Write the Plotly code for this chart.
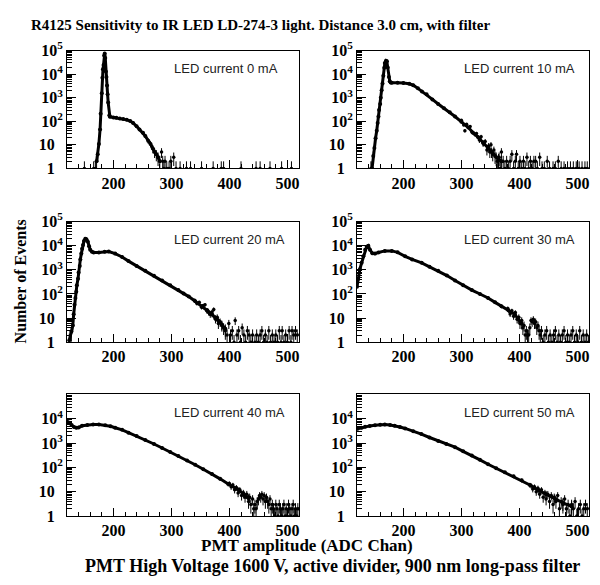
import plotly.graph_objects as go

# ---------------- data (ADC channel, number of events) ----------------
labels = ["LED current 0 mA", "LED current 10 mA", "LED current 20 mA",
          "LED current 30 mA", "LED current 40 mA", "LED current 50 mA"]

ch_0 = [171, 173, 175, 177, 178, 180, 181, 182, 183, 184, 185, 186, 187, 188, 189, 190, 191, 193,
        194, 200, 205, 211, 217, 223, 229, 234, 240, 245, 251, 255, 260, 264, 268, 271, 274, 277, 280]
n_0 = [2, 4, 11, 45, 210, 1550, 7000, 16000, 24500, 62000, 75000, 48000, 13000, 7500, 3300, 1400, 620, 180,
       155, 145, 140, 132, 125, 115, 103, 85, 61, 45, 33, 24, 15, 11, 7, 5, 4, 3, 2]
tail_ch_0 = [150, 166, 169, 283, 285, 287, 289, 292, 296, 299, 304, 308, 315, 326, 333, 352, 372,
             386, 390, 420, 446, 453, 470, 490, 507]
tail_n_0 = [1, 1, 1, 5, 2, 1, 2, 1, 1, 2, 3, 1, 1, 1, 1, 1, 1, 1, 1, 1, 1, 1, 1, 1, 1]

ch_10 = [146, 148, 150, 152, 154, 155.6, 157, 158, 160, 161, 162.5, 164, 165.4, 167, 168, 170, 171.5,
         173, 175, 176.5, 178, 180, 190, 200, 210, 217, 225, 232, 240, 250, 260, 270, 280, 289, 300,
         312, 320, 329, 338, 346, 352, 358, 364, 369]
n_10 = [1, 3.4, 7.4, 19, 40, 85, 160, 300, 540, 1000, 2100, 4000, 8500, 18600, 29500, 37000, 35000,
        19000, 7500, 5000, 4400, 4300, 4300, 4250, 3900, 3400, 2500, 1860, 1400, 850, 540, 360, 240, 160, 95,
        54, 33, 21, 12, 7.4, 5, 3.4, 2.5, 2]
tail_ch_10 = [144, 300, 304, 306, 309, 315, 318, 323, 326, 331, 334, 337, 341, 344, 347, 349, 351, 354,
              356, 360, 362, 365, 367, 369, 372, 375, 378, 381, 384, 387, 390, 393, 395, 398, 401, 404,
              407, 410, 413, 416, 419, 422, 425, 428, 431, 435, 439, 443, 448, 452, 458, 462, 467, 472,
              477, 483, 488, 493, 498, 503, 508, 513, 517]
tail_n_10 = [1, 110, 70, 40, 75, 60, 35, 28, 30, 16, 22, 12, 14, 6, 9, 5, 10, 4,
             6, 3, 2, 3, 1, 5, 2, 1, 2, 1, 2, 4, 1, 2, 4, 1, 2, 1,
             2, 1, 3, 1, 2, 1, 2, 2, 1, 3, 1, 1, 2, 1, 1, 1, 2, 1,
             1, 1, 1, 1, 1, 1, 1, 1, 1]

ch_20 = [124, 127.5, 130, 131.5, 133, 134.5, 136, 137, 139, 140, 142, 143, 144.7, 146, 147.6, 149.3,
         151.6, 153.5, 156, 158, 160, 163, 166, 175, 185, 192, 203, 215, 226, 240, 255, 270, 284, 298,
         312, 321, 330, 341, 353, 362, 370, 376, 381, 387, 393]
n_20 = [1.2, 2.7, 4.9, 14.5, 36, 68, 123, 230, 430, 780, 1450, 2700, 4700, 7400, 10700, 15800,
        19500, 18500, 14500, 9500, 6800, 5600, 5250, 5200, 5600, 5750, 4700, 3400, 2300, 1450, 910, 570,
        360, 230, 145, 105, 78, 50, 31, 21, 14.5, 10, 7.8, 5.5, 3.6]
tail_ch_20 = [340, 344, 348, 352, 355, 358, 361, 364, 367, 370, 373, 376, 379, 381, 384, 387, 390, 393,
              396, 399, 402, 405, 408, 410, 413, 416, 419, 422, 425, 428, 431, 434, 437, 440, 444, 447,
              450, 453, 456, 459, 462, 465, 468, 471, 474, 477, 480, 483, 486, 489, 491, 494, 497, 500,
              503, 506, 508, 511, 514, 517]
tail_n_20 = [55, 40, 45, 28, 33, 36, 20, 17, 14, 18, 23, 9, 11, 6, 7, 5, 4, 3,
             2, 6, 2, 3, 1, 8, 2, 3, 1, 4, 2, 1, 3, 2, 1, 2, 1, 2,
             1, 2, 3, 1, 2, 1, 3, 1, 2, 1, 2, 1, 3, 1, 3, 1, 2, 1,
             3, 1, 3, 2, 3, 2]

ch_30 = [120, 122, 125, 128, 131, 134, 136.7, 139.5, 142.4, 146.4, 151, 157, 168, 180, 190, 203, 215,
         231.5, 245, 260, 275, 289, 303, 318, 332, 346, 358, 369, 381, 392, 398, 404]
n_30 = [200, 420, 1070, 1950, 3630, 6800, 9100, 10000, 6800, 4900, 4700, 5250, 6100, 6100, 5300, 3630,
        2700, 1950, 1350, 910, 580, 360, 230, 145, 100, 68, 45, 31, 21, 14.5, 9, 5.8]
tail_ch_30 = [380, 384, 387, 390, 393, 396, 399, 401, 404, 406, 408, 410, 412, 414, 416, 418, 420, 422,
              424, 426, 428, 430, 432, 434, 436, 438, 441, 444, 447, 450, 453, 456, 459, 462, 465, 468,
              471, 474, 477, 480, 483, 486, 489, 492, 495, 498, 501, 504, 507, 510, 513, 516, 519]
tail_n_30 = [25, 15, 20, 12, 17, 9, 11, 6, 8, 4, 5, 2, 3, 2, 2, 4, 8, 7,
             9, 6, 7, 4, 5, 3, 2, 3, 1, 2, 3, 1, 2, 1, 2, 3, 1, 2,
             1, 2, 3, 1, 2, 1, 2, 3, 1, 2, 1, 3, 1, 2, 1, 2, 1]

ch_40 = [121, 124, 128, 132, 136, 140, 146, 155, 165, 175, 186, 195, 203, 215, 226, 240, 255, 270, 284,
         298, 312, 327, 341, 355, 370, 384, 398, 416, 425, 433]
n_40 = [7400, 6800, 5500, 4600, 4270, 4400, 5130, 5600, 5800, 5750, 5370, 4900, 4270, 3500, 2690, 1950,
        1350, 920, 630, 430, 295, 195, 129, 84, 54, 34, 21, 11.7, 8, 5.4]
tail_ch_40 = [400, 403, 406, 409, 412, 415, 418, 421, 424, 427, 430, 433, 435, 437, 440, 442, 444, 446,
              448, 450, 452, 454, 456, 458, 460, 462, 464, 466, 468, 470, 472, 474, 476, 478, 480, 482,
              484, 486, 488, 490, 492, 494, 496, 498, 500, 502, 504, 506, 508, 510, 512, 514, 516, 518]
tail_n_40 = [22, 16, 19, 12, 15, 9, 12, 7, 9, 6, 8, 4, 6, 3, 5, 2, 3, 2,
             4, 5, 7, 6, 8, 5, 7, 4, 6, 4, 3, 5, 2, 3, 2, 1, 3, 2,
             1, 3, 2, 1, 2, 3, 1, 2, 1, 3, 2, 1, 2, 3, 1, 2, 1, 2]

ch_50 = [121, 128, 134, 142, 151, 160, 168, 177, 185, 194, 203, 217, 231, 245, 260, 274, 289, 303, 318,
         332, 346, 360, 375, 390, 404, 418, 432.6, 446, 461, 475, 490]
n_50 = [3900, 4300, 4700, 5100, 5370, 5650, 5750, 5500, 5130, 4600, 4000, 3100, 2340, 1700, 1230, 920,
        680, 460, 310, 205, 135, 92, 63, 43, 29.5, 19, 11.7, 8, 5.4, 3.5, 2.5]
tail_ch_50 = [420, 423, 426, 429, 432, 435, 438, 441, 444, 446, 449, 452, 455, 458, 460, 463, 466, 469,
              472, 475, 478, 481, 484, 487, 490, 493, 496, 499, 502, 505, 508, 511, 514, 517]
tail_n_50 = [18, 13, 16, 10, 14, 8, 12, 6, 9, 5, 8, 4, 7, 3, 6, 4, 7, 2,
             4, 3, 5, 2, 3, 1, 3, 2, 4, 1, 2, 3, 1, 2, 3, 2]

x_ticks = [200, 300, 400, 500]
y_tickvals_full = [1, 10, 100, 1000, 10000, 100000]
PAD = "<span style='color:rgba(0,0,0,0)'>0</span>"
y_ticktext_full = ["1" + PAD, "10" + PAD, "10<sup>2</sup>", "10<sup>3</sup>", "10<sup>4</sup>",
                   "10<sup>5</sup>"]

main_title = "R4125 Sensitivity to IR LED LD-274-3 light. Distance 3.0 cm, with filter"
y_title = "Number of Events"
x_title = "PMT amplitude (ADC Chan)"
foot = "PMT High Voltage 1600 V, active divider, 900 nm long-pass filter"

panels = [(ch_0, n_0, tail_ch_0, tail_n_0), (ch_10, n_10, tail_ch_10, tail_n_10),
          (ch_20, n_20, tail_ch_20, tail_n_20), (ch_30, n_30, tail_ch_30, tail_n_30),
          (ch_40, n_40, tail_ch_40, tail_n_40), (ch_50, n_50, tail_ch_50, tail_n_50)]

# ---------------- layout geometry (pixels) ----------------
W, H = 600, 585
cols = [(67, 299), (357, 589)]
rows = [(41, 163), (218, 343), (397, 523)]

SERIF = "Liberation Serif"
SANS = "Liberation Sans"

fig = go.Figure()
layout = dict(width=W, height=H, margin=dict(l=0, r=0, t=0, b=0),
              paper_bgcolor="white", plot_bgcolor="white", showlegend=False)
annotations = []

err_y = dict(type="sqrt", color="black", thickness=1, width=0)
err_x = dict(type="constant", value=1.5, color="black", thickness=1, width=0)

for i, (cx, cy, tx, ty) in enumerate(panels):
    r, c = divmod(i, 2)
    xl, xr = cols[c]
    yt, yb = rows[r]
    xa = "xaxis" if i == 0 else f"xaxis{i+1}"
    ya = "yaxis" if i == 0 else f"yaxis{i+1}"
    xref = "x" if i == 0 else f"x{i+1}"
    yref = "y" if i == 0 else f"y{i+1}"

    fig.add_trace(go.Scatter(x=cx, y=cy, mode="lines+markers", xaxis=xref, yaxis=yref,
                             line=dict(color="black", width=3),
                             marker=dict(color="black", size=4),
                             error_y=err_y, error_x=err_x, hoverinfo="skip"))
    fig.add_trace(go.Scatter(x=tx, y=ty, mode="markers", xaxis=xref, yaxis=yref,
                             marker=dict(color="black", size=3.5),
                             error_y=err_y, error_x=err_x, hoverinfo="skip"))

    tv = y_tickvals_full if r < 2 else y_tickvals_full[:5]
    tt = y_ticktext_full if r < 2 else y_ticktext_full[:5]
    layout[xa] = dict(domain=[xl / W, xr / W], range=[120, 520], anchor=yref,
                      tickmode="array", tickvals=x_ticks, ticks="inside", ticklen=8,
                      tickcolor="black", tickwidth=1,
                      minor=dict(dtick=20, tick0=0, ticks="inside", ticklen=4,
                                 tickcolor="black", showgrid=False),
                      showline=True, mirror=True, linecolor="black", linewidth=1,
                      showgrid=False, zeroline=False,
                      tickfont=dict(family=SERIF, size=16, color="black", weight="bold"))
    layout[ya] = dict(domain=[1 - yb / H, 1 - yt / H], type="log", range=[0, 5], anchor=xref,
                      tickmode="array", tickvals=tv, ticktext=tt, ticks="inside", ticklen=9,
                      tickcolor="black", tickwidth=1,
                      minor=dict(dtick="D1", ticks="inside", ticklen=5, tickcolor="black",
                                 showgrid=False),
                      showline=True, mirror=True, linecolor="black", linewidth=1,
                      showgrid=False, zeroline=False,
                      tickfont=dict(family=SERIF, size=16, color="black", weight="bold"))
    annotations.append(dict(text=labels[i], xref="paper", yref="paper",
                            x=(xl + 105) / W, y=1 - (yt + 19) / H, xanchor="left", yanchor="middle",
                            showarrow=False, font=dict(family=SANS, size=13, color="#222")))

annotations += [
    dict(text=main_title, xref="paper", yref="paper", x=260 / W, y=1 - 15 / H,
         xanchor="center", yanchor="middle", showarrow=False,
         font=dict(family=SERIF, size=15, color="black", weight="bold")),
    dict(text=y_title, xref="paper", yref="paper", x=20 / W, y=1 - 280 / H, textangle=-90,
         xanchor="center", yanchor="middle", showarrow=False,
         font=dict(family=SERIF, size=16, color="black", weight="bold")),
    dict(text=x_title, xref="paper", yref="paper", x=307 / W, y=1 - 553 / H,
         xanchor="center", yanchor="middle", showarrow=False,
         font=dict(family=SERIF, size=17, color="black", weight="bold")),
    dict(text=foot, xref="paper", yref="paper", x=332 / W, y=1 - 575 / H,
         xanchor="center", yanchor="middle", showarrow=False,
         font=dict(family=SERIF, size=18, color="black", weight="bold")),
]
layout["annotations"] = annotations
fig.update_layout(**layout)
fig.write_html("out.html")
